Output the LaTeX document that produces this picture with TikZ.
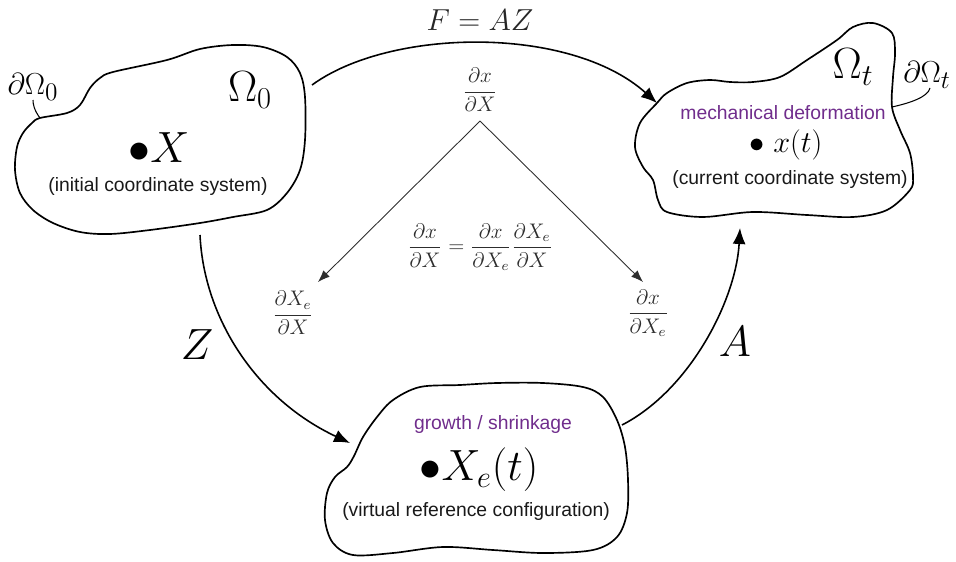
\documentclass[tikz,border=0pt]{standalone}
\usepackage{amsmath,amssymb}
\usepackage{fontspec}
\setsansfont{Liberation Sans}
\usepackage{xcolor}
\usetikzlibrary{positioning,arrows.meta}
\definecolor{procpurple}{RGB}{112,45,140}
\definecolor{fracgray}{RGB}{45,45,45}

\begin{document}
\begin{tikzpicture}[x=0.02cm,y=-0.02cm,>={Latex[length=3.2mm,width=2.6mm]}]
  \tikzset{
    blob/.style={line width=0.95pt},
    leader/.style={line width=0.6pt},
    maparrow/.style={->,line width=0.9pt},
    deriv/.style={->,fracgray,line width=0.5pt,>={Latex[length=2.4mm,width=1.8mm]}},
    caption/.style={font=\sffamily\fontsize{11}{13}\selectfont,text=black!90},
    process/.style={caption,text=procpurple},
    frac/.style={text=fracgray,font=\large},
    bigmath/.style={font=\fontsize{23}{27}\selectfont},
    mapname/.style={font=\fontsize{26}{30}\selectfont}
  }
  \useasboundingbox (0,0) rectangle (956,561);
  % the three configurations drawn as free-hand outlines (pixel units)
  \draw[blob] plot[smooth cycle,tension=0.55] coordinates {
    (40,118) (67,113) (80,105) (90,88) (100,78) (113,72) (167,60) (200,49)
    (233,45) (263,47) (287,57) (300,73) (305,97) (305,140) (300,170)
    (287,193) (267,210) (233,217) (200,223) (150,230) (110,234) (80,232)
    (53,223) (33,210) (20,193) (15,170) (17,147) (23,133) (32,123)};
  \draw[blob] plot[smooth cycle,tension=0.55] coordinates {
    (657,103) (640,123) (635,147) (643,167) (653,180) (658,200) (667,212)
    (703,217) (753,212) (807,215) (853,217) (887,210) (910,190) (913,177)
    (910,153) (900,130) (892,107) (893,77) (895,53) (892,33) (873,23)
    (853,27) (837,40) (807,60) (780,77) (753,82) (730,82) (710,80)
    (687,83) (667,93)};
  \draw[blob] plot[smooth cycle,tension=0.55] coordinates {
    (363,437) (377,417) (393,400) (420,387) (460,385) (497,383)
    (543,383) (583,387) (603,397) (617,420) (625,447) (628,480) (627,513)
    (617,537) (593,550) (543,553) (493,550) (443,547) (393,553) (353,555)
    (333,543) (325,520) (327,493) (335,477) (347,467) (354,456)};

  % boundary leaders
  \draw[leader] (40,118) .. controls (34,110) and (33,104) .. (33,100);
  \draw[leader] (892,107) .. controls (910,103) and (928,97) .. (930,88);
  \node[font=\fontsize{19}{23}\selectfont] (bd0) at (33,87) {$\partial\Omega_0$};
  \node[font=\fontsize{19}{23}\selectfont] (bdt) at (927,75) {$\partial\Omega_t$};

  % labels inside the configurations
  \node[bigmath] (om0) at (250,90) {$\Omega_0$};
  \node[bigmath] (omt) at (853,67) {$\Omega_t$};
  \node[font=\fontsize{25}{29}\selectfont] (ptX) at (159,148) {${\bullet}X$};
  \node[caption] (capinit) at (158,186) {(initial coordinate system)};
  \node[process] (mech) at (783,113) {mechanical deformation};
  \node[font=\fontsize{16}{19}\selectfont] (ptx) at (786,145) {$\bullet\;x(t)$};
  \node[caption] (capcurr) at (790,180) {(current coordinate system)};
  \node[process] (grow) at (493,424) {growth / shrinkage};
  \node[font=\fontsize{25}{29}\selectfont] (ptXe) at (479,470) {${\bullet}X_e(t)$};
  \node[caption] (capref) at (476,511) {(virtual reference configuration)};

  % maps between configurations
  \coordinate (init-r) at (312,85);
  \coordinate (curr-l) at (657,103);
  \coordinate (init-b) at (200,235);
  \coordinate (ref-l) at (350,443);
  \coordinate (ref-r) at (622,425);
  \coordinate (curr-b) at (740,228);
  \draw[maparrow] (init-r) .. controls (390,28) and (570,25) .. (curr-l);
  \draw[maparrow] (init-b) .. controls (204,320) and (258,400) .. (ref-l);
  \draw[maparrow] (ref-r) .. controls (690,390) and (736,300) .. (curr-b);
  \node[font=\fontsize{19}{23}\selectfont,text=black!85] (F) at (480,20) {$F = AZ$};
  \node[mapname] (Z) at (197,345) {$Z$};
  \node[mapname] (A) at (735,342) {$A$};

  % chain rule split
  \node[frac] (dxdX) at (480,90) {$\dfrac{\partial x}{\partial X}$};
  \node[frac] (dXedX) at (293,313) {$\dfrac{\partial X_e}{\partial X}$};
  \node[frac] (dxdXe) at (648,313) {$\dfrac{\partial x}{\partial X_e}$};
  \node[frac] (chain) at (480,247) {$\dfrac{\partial x}{\partial X} = \dfrac{\partial x}{\partial X_e}\dfrac{\partial X_e}{\partial X}$};
  \coordinate (apex) at (480,121);
  \coordinate (left-tip) at (318,282);
  \coordinate (right-tip) at (643,282);
  \draw[deriv] (apex) -- (left-tip);
  \draw[deriv] (apex) -- (right-tip);
\end{tikzpicture}
\end{document}
